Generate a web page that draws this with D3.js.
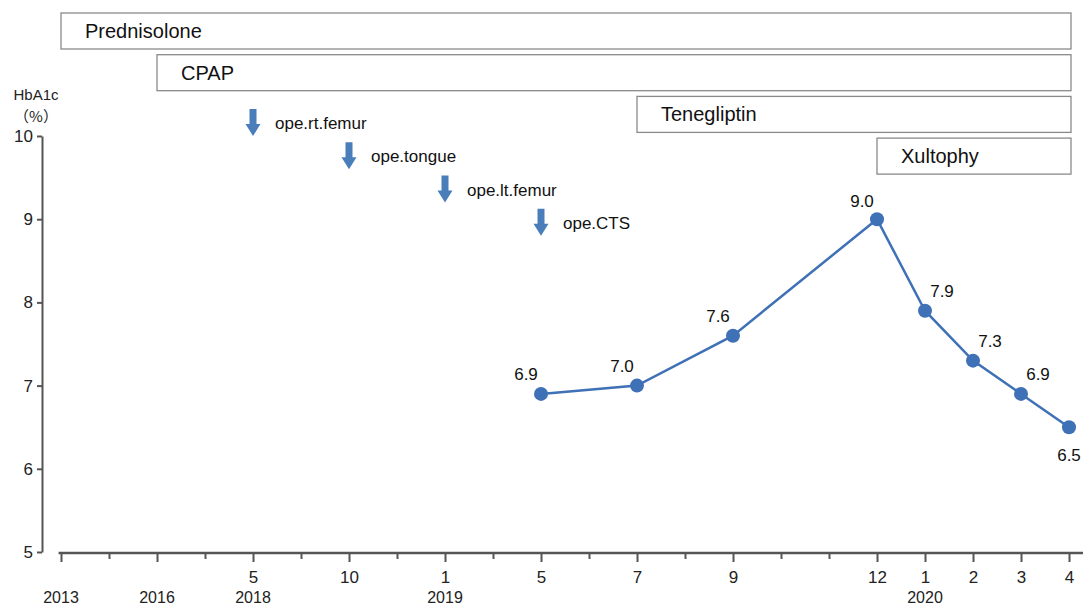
<!DOCTYPE html>
<html>
<head>
<meta charset="utf-8">
<script src="https://cdn.jsdelivr.net/npm/d3@7"></script>
<style>
  body { margin: 0; background: #fff; }
  svg { display: block; font-family: "Liberation Sans", "Noto Sans CJK JP", sans-serif; }
</style>
</head>
<body>
<div id="container"></div>
<script>
const w = 1083
const h = 609

// x slots: one slot = one step on the axis (not linear in time before 5/2019)
const tickSlots = [0, 2, 4, 6, 8, 10, 12, 14, 17, 18, 19, 20, 21]
const monthLabels = ['', '', '5', '10', '1', '5', '7', '9', '12', '1', '2', '3', '4']
const yearSlots = [0, 2, 4, 8, 18]
const yearLabels = ['2013', '2016', '2018', '2019', '2020']

// HbA1c series
const hbSlots = [10, 12, 14, 17, 18, 19, 20, 21]
const hbValues = [6.9, 7.0, 7.6, 9.0, 7.9, 7.3, 6.9, 6.5]

// drugs (bars above plot)
const drugNames = ['Prednisolone', 'CPAP', 'Tenegliptin', 'Xultophy']
const drugStart = [0, 2, 12, 17]
const drugEnd = [21, 21, 21, 21]

// operations (arrows)
const opNames = ['ope.rt.femur', 'ope.tongue', 'ope.lt.femur', 'ope.CTS']
const opSlots = [4, 6, 8, 10]
const opTips = [10, 9.6, 9.2, 8.8]

const yTicks = [5, 6, 7, 8, 9, 10]

const blue = '#3f71b6'
const axisColor = '#555'

const x = d3.scaleLinear().domain([0, 21]).range([61, 1069])
const y = d3.scaleLinear().domain([5, 10]).range([552, 136])

const svg = d3.select('#container')
  .append('svg')
  .attr('width', w)
  .attr('height', h)

// drug boxes
const drugs = svg.append('g')
drugNames.forEach((name, i) => {
  const top = 13 + i * 41.7
  drugs.append('rect')
    .attr('x', x(drugStart[i]))
    .attr('y', top)
    .attr('width', x(drugEnd[i]) - x(drugStart[i]) + 2)
    .attr('height', 36)
    .attr('fill', '#fff')
    .attr('stroke', '#8a8a8a')
    .attr('stroke-width', 1.3)
  drugs.append('text')
    .attr('x', x(drugStart[i]) + 24)
    .attr('y', top + 25)
    .style('font-size', '20px')
    .attr('fill', '#111')
    .text(name)
})

// y axis
const yAxis = svg.append('g')
  .attr('transform', 'translate(42,0)')
  .call(d3.axisLeft(y).tickValues(yTicks).tickSize(5).tickSizeOuter(0).tickPadding(4).tickFormat(d3.format('d')))
yAxis.select('.domain').attr('stroke', axisColor).attr('stroke-width', 2)
yAxis.selectAll('.tick line').attr('stroke', axisColor).attr('stroke-width', 2)
yAxis.selectAll('.tick text')
  .style('font-size', '17px')
  .attr('fill', '#222')

svg.append('text')
  .attr('x', 36)
  .attr('y', 100)
  .attr('text-anchor', 'middle')
  .style('font-size', '15px')
  .attr('fill', '#222')
  .text('HbA1c')
svg.append('text')
  .attr('x', 36)
  .attr('y', 122)
  .attr('text-anchor', 'middle')
  .style('font-size', '15px')
  .style('font-family', '"Noto Sans CJK JP", sans-serif')
  .attr('fill', '#222')
  .text('（%）')

// x axis
const allSlots = d3.range(0, 22)
const xAxis = svg.append('g')
  .attr('transform', 'translate(0,553)')
  .call(d3.axisBottom(x)
    .tickValues(allSlots)
    .tickSize(6)
    .tickSizeOuter(0)
    .tickPadding(12)
    .tickFormat(d => {
      const k = tickSlots.indexOf(d)
      return k >= 0 ? monthLabels[k] : ''
    }))
xAxis.select('.domain').remove()
xAxis.append('line')
  .attr('x1', x(-0.05))
  .attr('x2', w)
  .attr('stroke', axisColor)
  .attr('stroke-width', 2.5)
xAxis.selectAll('.tick line')
  .attr('stroke', axisColor)
  .attr('stroke-width', 2)
  .attr('y2', d => tickSlots.includes(d) ? 9 : 6)
xAxis.selectAll('.tick text')
  .style('font-size', '17px')
  .attr('fill', '#222')

svg.append('g')
  .selectAll('text')
  .data(yearLabels)
  .enter().append('text')
  .attr('x', (d, i) => x(yearSlots[i]))
  .attr('y', 603)
  .attr('text-anchor', 'middle')
  .style('font-size', '16px')
  .attr('fill', '#222')
  .text(d => d)

// operation arrows
const ops = svg.append('g')
opNames.forEach((name, i) => {
  const cx = x(opSlots[i])
  const tip = y(opTips[i])
  ops.append('path')
    .attr('d', 'M' + (cx - 3.5) + ',' + (tip - 27) + 'h7v15h4l-7.5,12l-7.5,-12h4z')
    .attr('fill', '#4a7ebb')
  ops.append('text')
    .attr('x', cx + 22)
    .attr('y', tip - 7)
    .style('font-size', '17px')
    .attr('fill', '#111')
    .text(name)
})

// line + points
const pts = hbSlots.map((s, i) => [s, hbValues[i]])
svg.append('path')
  .datum(pts)
  .attr('fill', 'none')
  .attr('stroke', blue)
  .attr('stroke-width', 2.5)
  .attr('d', d3.line().x(d => x(d[0])).y(d => y(d[1])))

svg.append('g')
  .selectAll('circle')
  .data(pts)
  .enter().append('circle')
  .attr('cx', d => x(d[0]))
  .attr('cy', d => y(d[1]))
  .attr('r', 7)
  .attr('fill', blue)

// value labels: left-above for rising part, right-above for falling part, last below
svg.append('g')
  .selectAll('text')
  .data(pts)
  .enter().append('text')
  .attr('x', (d, i) => {
    if (i === pts.length - 1) return x(d[0])
    return i <= 3 ? x(d[0]) - 15 : x(d[0]) + 17
  })
  .attr('y', (d, i) => {
    if (i === pts.length - 1) return y(d[1]) + 34
    return i === 3 ? y(d[1]) - 12 : y(d[1]) - 14
  })
  .attr('text-anchor', 'middle')
  .style('font-size', '17px')
  .attr('fill', '#111')
  .text(d => d3.format('.1f')(d[1]))
</script>
</body>
</html>
